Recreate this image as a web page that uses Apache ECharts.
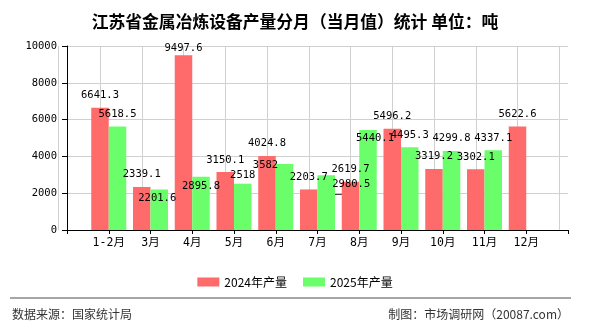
<!DOCTYPE html>
<html>
<head>
<meta charset="utf-8">
<script src="https://cdn.jsdelivr.net/npm/echarts@6/dist/echarts.min.js"></script>
<style>
  html, body { margin: 0; padding: 0; background: #fff; }
  #chart { width: 590px; height: 330px; }
</style>
</head>
<body>
<div id="chart"></div>
<script>
// month labels and the two years of output (tons)
const months = ['1-2月', '3月', '4月', '5月', '6月', '7月', '8月', '9月', '10月', '11月', '12月'];
const output2024 = [6641.3, 2339.1, 9497.6, 3150.1, 4024.8, 2203.7, 2619.7, 5496.2, 3319.2, 3302.1, 5622.6];
const output2025 = [5618.5, 2201.6, 2895.8, 2518, 3582, 2980.5, 5440.1, 4495.3, 4299.8, 4337.1, null];
const yTicks = [0, 2000, 4000, 6000, 8000, 10000];

// a few labels were pushed aside in the original to avoid overlaps
const shift2024 = { 2: [0, 5] };
const shift2025 = { 1: [-2, 21], 2: [0, 22], 3: [0, 4], 4: [-19, 13], 5: [25, 21], 6: [7, 21] };
const withLeader = { 5: true };

const numFont = "'DejaVu Sans Mono', 'Noto Sans CJK SC', monospace";
const cjkFont = "'Noto Sans CJK SC', sans-serif";

// empty slot on each side so the months sit on grid lines
const cats = [''].concat(months, ['']);

function buildSeries(values, shifts, leaders) {
    const out = [null];
    values.forEach((v, i) => {
        if (shifts[i]) {
            const item = { value: v, label: { offset: shifts[i] } };
            if (leaders && leaders[i]) {
                item.labelLine = { show: true, lineStyle: { color: '#333', width: 1 } };
            }
            out.push(item);
        } else {
            out.push(v);
        }
    });
    out.push(null);
    return out;
}

// vertical grid lines, one per category slot
const vGrid = cats.map((c, i) => ({ xAxis: i }));

const barLabel = {
    show: true,
    position: 'top',
    distance: 7,
    color: '#000',
    fontFamily: numFont,
    fontSize: 10.5
};

const myChart = echarts.init(document.getElementById('chart'), null, { renderer: 'canvas' });

const option = {
    animation: false,
    title: {
        text: '江苏省金属冶炼设备产量分月（当月值）统计 单位：吨',
        left: 'center',
        top: 8,
        textStyle: { fontFamily: cjkFont, fontSize: 16.8, fontWeight: 'bold', color: '#000' }
    },
    legend: {
        top: 271,
        left: 'center',
        itemWidth: 22,
        itemHeight: 9,
        itemGap: 16,
        icon: 'rect',
        textStyle: { fontFamily: cjkFont, fontSize: 12, color: '#000' },
        data: ['2024年产量', '2025年产量']
    },
    grid: { left: 67, right: 22, top: 46, bottom: 100 },
    xAxis: {
        type: 'category',
        data: cats,
        boundaryGap: false,
        axisLine: { lineStyle: { color: '#000' } },
        axisTick: { length: 4, interval: 0, lineStyle: { color: '#000' } },
        axisLabel: { margin: 7, color: '#000', fontFamily: numFont, fontSize: 11.5, interval: 0 },
        splitLine: { show: false }
    },
    yAxis: {
        type: 'value',
        min: yTicks[0],
        max: yTicks[yTicks.length - 1],
        interval: yTicks[1] - yTicks[0],
        axisLine: { show: true, lineStyle: { color: '#000' } },
        axisTick: { show: true, length: 5, lineStyle: { color: '#000' } },
        axisLabel: {
            margin: 10, color: '#000', fontFamily: numFont, fontSize: 10.5,
            formatter: v => String(v)
        },
        splitLine: { lineStyle: { color: '#d0d0d0' } }
    },
    series: [
        {
            name: '2024年产量',
            type: 'bar',
            barWidth: 17.5,
            barGap: '0%',
            itemStyle: { color: '#ff6a6a' },
            label: barLabel,
            data: buildSeries(output2024, shift2024),
            markLine: {
                silent: true,
                z: 0,
                symbol: 'none',
                label: { show: false },
                lineStyle: { color: '#d0d0d0', type: 'solid', width: 1 },
                emphasis: { disabled: true },
                data: vGrid
            }
        },
        {
            name: '2025年产量',
            type: 'bar',
            barWidth: 17.5,
            barGap: '0%',
            itemStyle: { color: '#6aff6a' },
            label: barLabel,
            data: buildSeries(output2025, shift2025, withLeader)
        }
    ],
    graphic: [
        {
            type: 'line',
            shape: { x1: 10, y1: 298, x2: 571, y2: 298 },
            style: { stroke: '#888', lineWidth: 1.5 }
        },
        {
            type: 'text',
            left: 12,
            top: 308,
            style: { text: '数据来源：国家统计局', fill: '#333', font: "12px 'Noto Sans CJK SC', sans-serif" }
        },
        {
            type: 'text',
            right: 21,
            top: 308,
            style: { text: '制图：市场调研网（20087.com）', fill: '#333', font: "12px 'Noto Sans CJK SC', sans-serif" }
        }
    ]
};

myChart.setOption(option);
</script>
</body>
</html>
